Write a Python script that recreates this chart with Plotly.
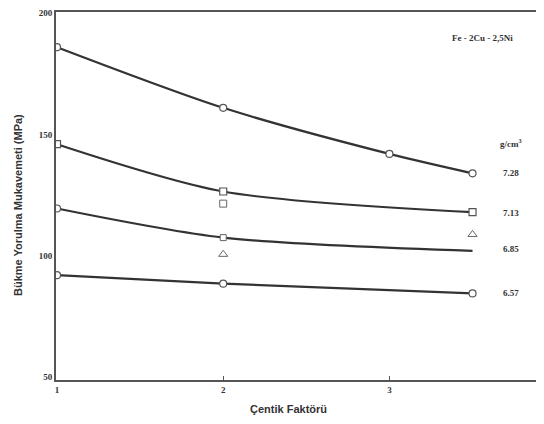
import plotly.graph_objects as go

# Fitted curves (density series, g/cm3)
x_728 = [1, 2, 3, 3.5]
y_728 = [186, 161, 142, 134]
x_713 = [1, 2, 3.5]
y_713 = [146, 126.5, 118]
x_685 = [1, 2, 3.5]
y_685 = [119.5, 107.5, 102]
x_657 = [1, 2, 3.5]
y_657 = [92, 88.5, 84.5]

# Extra measured points off the curves
x_713_pts = [2]
y_713_pts = [121.5]
x_685_tri = [2, 3.5]
y_685_tri = [100.6, 108.8]

series_labels = ["7.28", "7.13", "6.85", "6.57"]
label_y = [134, 117.8, 102.6, 84.7]
x_ticks = [1, 2, 3]
y_ticks = [50, 100, 150, 200]

LC = "#333333"
fig = go.Figure()

def curve(x, y, symbol, marker_idx):
    fig.add_trace(go.Scatter(x=x, y=y, mode="lines", line=dict(color=LC, width=2.2, shape="spline", smoothing=0.8),
                             showlegend=False, hoverinfo="skip"))
    mx = [x[i] for i in marker_idx]
    my = [y[i] for i in marker_idx]
    fig.add_trace(go.Scatter(x=mx, y=my, mode="markers",
                             marker=dict(symbol=symbol, size=7, color="white", line=dict(color="#555", width=1.2)),
                             showlegend=False))

curve(x_728, y_728, "circle", [0, 1, 2, 3])
curve(x_713, y_713, "square", [0, 1, 2])
curve(x_685, y_685, "circle", [0])
fig.add_trace(go.Scatter(x=[x_685[1]], y=[y_685[1]], mode="markers",
                         marker=dict(symbol="square", size=6, color="white", line=dict(color="#666", width=1)),
                         showlegend=False))
curve(x_657, y_657, "circle", [0, 1, 2])

fig.add_trace(go.Scatter(x=x_713_pts, y=y_713_pts, mode="markers",
                         marker=dict(symbol="square-open", size=7, color="#666", line=dict(width=1)),
                         showlegend=False))
fig.add_trace(go.Scatter(x=x_685_tri, y=y_685_tri, mode="markers",
                         marker=dict(symbol="triangle-up-open", size=8, color="#666", line=dict(width=1)),
                         showlegend=False))

PH = 368.0  # plot-area height in px
SF = dict(family="Liberation Serif", size=9, color="#333")
ann = []
for t, yy in zip(series_labels, label_y):
    ann.append(dict(x=3.73, y=yy, xref="x", yref="y", text=f"<b>{t}</b>", showarrow=False,
                    font=SF, xanchor="center"))
ann.append(dict(x=3.73, y=146.7, xref="x", yref="y", text="<b>g/cm<sup>3</sup></b>", showarrow=False,
                font=SF, xanchor="center"))
ann.append(dict(x=3.56, y=189.6, xref="x", yref="y", text="<b>Fe - 2Cu - 2,5Ni</b>", showarrow=False,
                font=SF, xanchor="center"))
ann.append(dict(x=(288 - 56) / 488, y=(380 - 409) / PH, xref="paper", yref="paper",
                text="<b>Çentik Faktörü</b>", showarrow=False,
                font=dict(family="Liberation Sans", size=11, color="#333"),
                xanchor="center", yanchor="middle"))
ann.append(dict(x=(18 - 56) / 488, y=(380 - 205) / PH, xref="paper", yref="paper",
                text="<b>Bükme Yorulma Mukavemeti (MPa)</b>", showarrow=False, textangle=-90,
                font=dict(family="Liberation Sans", size=11, color="#333"),
                xanchor="center", yanchor="middle"))
fig.update_layout(annotations=ann)

# page body adds an 8px offset; size the figure so the plot lands at the reference pixels
fig.update_layout(
    width=536, height=416,
    margin=dict(l=48, r=0, t=4, b=44, autoexpand=False),
    paper_bgcolor="white", plot_bgcolor="white",
    font=dict(family="Liberation Serif", color="#333"),
    xaxis=dict(range=[0.994, 3.93], tickvals=x_ticks, ticktext=[f"<b>{v}</b>" for v in x_ticks],
               showgrid=False, zeroline=False, showline=True, linecolor="#555", linewidth=2,
               mirror=True, ticks="inside", ticklen=4, tickcolor="#555", automargin=False,
               tickfont=dict(family="Liberation Serif", size=9, color="#333")),
    yaxis=dict(range=[48.8, 200.5], tickvals=y_ticks, ticktext=[f"<b>{v}</b>" for v in y_ticks],
               showgrid=False, zeroline=False, showline=True, linecolor="#555", linewidth=2,
               ticks="", automargin=False, ticklabeloverflow="allow",
               tickfont=dict(family="Liberation Serif", size=9, color="#333")),
)

fig.write_html("out.html")
